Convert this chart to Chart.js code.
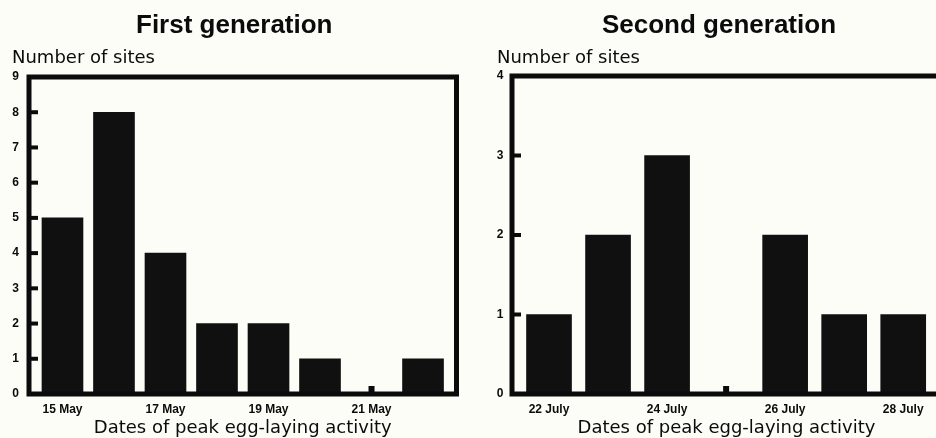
<!DOCTYPE html>
<html>
<head>
<meta charset="utf-8">
<script src="https://cdn.jsdelivr.net/npm/chart.js@4"></script>
<style>
  html, body { margin: 0; padding: 0; background: #fdfdf8; overflow: hidden; width: 936px; height: 438px; }
  #c1 { position: absolute; left: 0; top: 0; }
  #c2 { position: absolute; left: 470px; top: 0; }
</style>
</head>
<body>
<canvas id="c1" width="470" height="438"></canvas>
<canvas id="c2" width="496" height="438"></canvas>
<script>
// First generation: one bar per day, only every other day is labelled.
const FIRST_DATES = ["15 May", "16 May", "17 May", "18 May", "19 May", "20 May", "21 May", "22 May"];
const FIRST_SITES = [5, 8, 4, 2, 2, 1, 0, 1];
const FIRST_LABELLED = ["15 May", "17 May", "19 May", "21 May"];
const FIRST_Y_MAX = 9;

// Second generation.
const SECOND_DATES = ["22 July", "23 July", "24 July", "25 July", "26 July", "27 July", "28 July"];
const SECOND_SITES = [1, 2, 3, 0, 2, 1, 1];
const SECOND_LABELLED = ["22 July", "24 July", "26 July", "28 July"];
const SECOND_Y_MAX = 4;

const INK = "#0b0b0b", BAR = "#101010";
const BOLD = "'Liberation Sans', Arial, sans-serif";
const PLAIN = "'DejaVu Sans', sans-serif";

// Heavy frame round the plot, short inward y ticks, and a little stub
// standing on the axis where a date had no sites.
const framePlugin = {
  id: "frame",
  afterDatasetsDraw(chart) {
    const { ctx, chartArea: a, scales: { x, y } } = chart;
    ctx.save();
    ctx.fillStyle = INK;
    for (const t of y.ticks) {
      const py = y.getPixelForValue(t.value);
      ctx.fillRect(a.left, py - 2, 9, 4);
    }
    for (const d of chart.data.datasets[0].data) {
      if (d.y !== 0) continue;
      const px = x.getPixelForValue(d.x);
      ctx.fillRect(px - 3, a.bottom - 8, 6, 8);
    }
    ctx.strokeStyle = INK;
    ctx.lineWidth = 5;
    ctx.strokeRect(a.left, a.top, a.right - a.left, a.bottom - a.top);
    ctx.restore();
  }
};

function generationChart(canvasId, title, dates, sites, labelled, yMax, o) {
  return new Chart(document.getElementById(canvasId), {
    type: "bar",
    data: {
      datasets: [{
        data: sites.map((v, i) => ({ x: i, y: v })),
        backgroundColor: BAR, borderWidth: 0, barThickness: o.bar
      }]
    },
    options: {
      responsive: false, animation: false, events: [],
      layout: { padding: { left: o.padLeft, right: o.padRight, top: 10, bottom: 0 } },
      plugins: {
        legend: { display: false },
        tooltip: { enabled: false },
        title: {
          display: true, text: title, color: INK,
          font: { family: BOLD, size: 26, weight: "bold", lineHeight: 1.2 },
          padding: { top: 0, bottom: 6 }
        },
        subtitle: {
          display: true, text: "Number of sites", align: "start", color: INK,
          font: { family: PLAIN, size: 18, lineHeight: 1.2 },
          padding: { top: 0, bottom: o.subGap }
        }
      },
      scales: {
        x: {
          type: "linear", min: o.xMin, max: o.xMax, offset: false,
          grid: { display: false, drawTicks: false }, border: { display: false },
          afterBuildTicks: s => { s.ticks = labelled.map(l => ({ value: dates.indexOf(l) })); },
          ticks: {
            padding: 8, color: INK, autoSkip: false, maxRotation: 0,
            font: { family: BOLD, size: 12, weight: "bold" },
            callback: v => dates[v]
          },
          title: {
            display: true, text: "Dates of peak egg-laying activity", color: INK,
            font: { family: PLAIN, size: 18, lineHeight: 1.2 },
            padding: { top: -7, bottom: -1 }
          }
        },
        y: {
          min: 0, max: yMax,
          afterFit: s => { s.width = o.yWidth; },
          grid: { display: false, drawTicks: false }, border: { display: false },
          ticks: {
            stepSize: 1, padding: o.yPad, color: INK,
            font: { family: BOLD, size: 12, weight: "bold" }
          }
        }
      }
    },
    plugins: [framePlugin]
  });
}

generationChart("c1", "First generation", FIRST_DATES, FIRST_SITES, FIRST_LABELLED, FIRST_Y_MAX,
  { padLeft: 12, padRight: 13.5, yWidth: 17, yPad: 10, bar: 41, xMin: -0.65, xMax: 7.65, subGap: 8.2 });

generationChart("c2", "Second generation", SECOND_DATES, SECOND_SITES, SECOND_LABELLED, SECOND_Y_MAX,
  { padLeft: 27, padRight: 25, yWidth: 15, yPad: 8.5, bar: 45, xMin: -0.627, xMax: 6.64, subGap: 7.2 });
</script>
</body>
</html>
